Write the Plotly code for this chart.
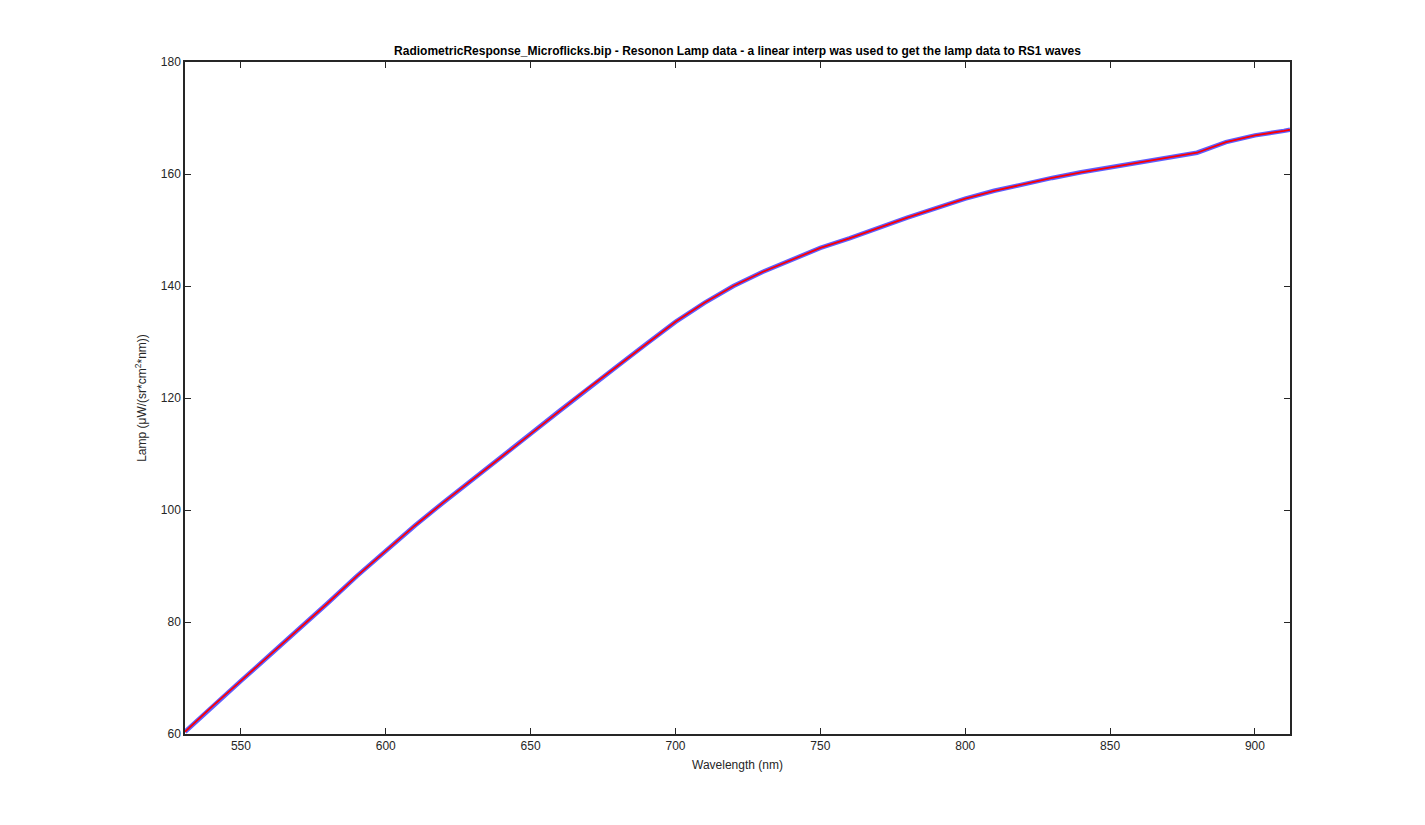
import plotly.graph_objects as go

# Lamp data knots (nm, µW/(sr*cm^2*nm))
wavelength = [530.7, 540, 550, 560, 570, 580, 590, 600, 610, 620, 630, 640, 650, 660,
              670, 680, 690, 700, 710, 720, 730, 740, 750, 760, 770, 780, 790, 800,
              810, 820, 830, 840, 850, 860, 870, 880, 890, 900, 910, 912.1]
lamp = [60.4, 64.9, 69.5, 74.1, 78.7, 83.4, 88.2, 92.7, 97.2, 101.4, 105.4, 109.5,
        113.6, 117.7, 121.8, 125.7, 129.7, 133.6, 137.0, 140.0, 142.5, 144.7, 146.8,
        148.5, 150.4, 152.2, 153.9, 155.6, 157.0, 158.2, 159.3, 160.3, 161.2, 162.1,
        162.9, 163.8, 165.7, 166.9, 167.7, 167.9]

xticks = [550, 600, 650, 700, 750, 800, 850, 900]
yticks = [60, 80, 100, 120, 140, 160, 180]

fig = go.Figure()
fig.add_trace(go.Scatter(x=wavelength, y=lamp, mode="lines",
                         line=dict(color="rgba(40,40,255,0.75)", width=4.5),
                         showlegend=False, hoverinfo="skip"))
fig.add_trace(go.Scatter(x=wavelength, y=lamp, mode="lines",
                         line=dict(color="#ff0000", width=1.8),
                         showlegend=False))

axis_common = dict(showline=True, linecolor="#262626", linewidth=1.5, mirror="ticks",
                   ticks="inside", ticklen=6, tickwidth=1.3, tickcolor="#262626",
                   showgrid=False, zeroline=False,
                   tickfont=dict(family="Liberation Sans, Arial", size=12, color="#262626"))

fig.update_layout(
    width=1425, height=825,
    paper_bgcolor="white", plot_bgcolor="white",
    margin=dict(l=177, r=143, t=54, b=99),
    title=dict(text="<b>RadiometricResponse_Microflicks.bip - Resonon Lamp data - a linear interp was used to get the lamp data to RS1 waves</b>",
               x=(177 + 1282) / 2 / 1425, xanchor="center", y=1 - 43 / 825, yanchor="middle",
               font=dict(family="Liberation Sans, Arial", size=12, color="black")),
    xaxis=dict(range=[530.7, 912.1], tickvals=xticks,
               title=dict(text="Wavelength (nm)", standoff=8,
                          font=dict(family="Liberation Sans, Arial", size=12, color="#262626")),
               **axis_common),
    yaxis=dict(range=[60, 180], tickvals=yticks,
               title=dict(text="Lamp (μW/(sr*cm<sup>2</sup>*nm))", standoff=12,
                          font=dict(family="Liberation Sans, Arial", size=12, color="#262626")),
               **axis_common),
)

fig.write_html("out.html")
